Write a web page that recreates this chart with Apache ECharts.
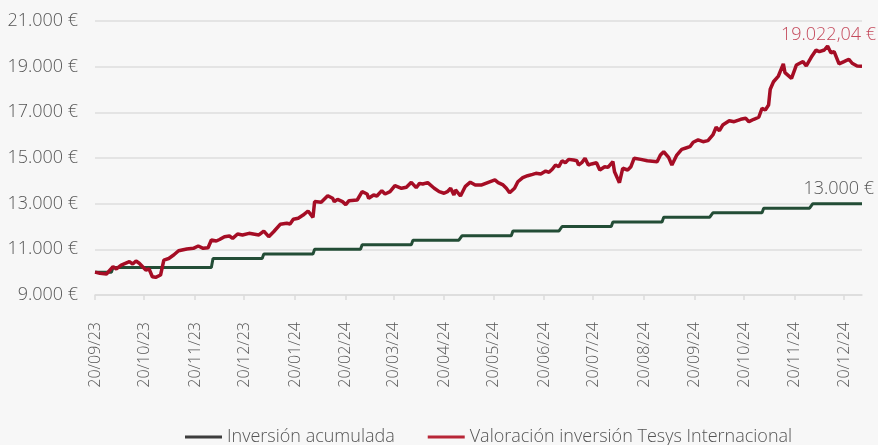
<!DOCTYPE html>
<html>
<head>
<meta charset="utf-8">
<script src="https://cdn.jsdelivr.net/npm/echarts@6/dist/echarts.min.js"></script>
<style>
html,body{margin:0;padding:0;background:#f7f7f7;}
#c{width:878px;height:445px;}
</style>
</head>
<body>
<div id="c"></div>
<script>
// ---- Data ----
const startDate = '2023-09-20';
const endDate = '2024-12-31';

const seriesNames = ['Inversión acumulada', 'Valoración inversión Tesys Internacional'];

// Accumulated investment (changes on these dates)
const investDates = ['2023-09-20','2023-10-01','2023-12-01','2024-01-01','2024-02-01','2024-03-01','2024-04-01','2024-05-01','2024-06-01','2024-07-01','2024-08-01','2024-09-01','2024-10-01','2024-11-01','2024-12-01'];
const investValues = [10000,10200,10600,10800,11000,11200,11400,11600,11800,12000,12200,12400,12600,12800,13000];

// Portfolio valuation
const valueDates = [
'2023-09-20','2023-09-23','2023-09-27','2023-10-01','2023-10-03','2023-10-06','2023-10-11','2023-10-13','2023-10-15','2023-10-17',
'2023-10-21','2023-10-23','2023-10-25','2023-10-27','2023-10-30','2023-11-01','2023-11-04','2023-11-07','2023-11-10','2023-11-15',
'2023-11-19','2023-11-22','2023-11-25','2023-11-28','2023-11-30','2023-12-03','2023-12-05','2023-12-08','2023-12-11','2023-12-13',
'2023-12-16','2023-12-19','2023-12-23','2023-12-29','2024-01-01','2024-01-04','2024-01-07','2024-01-11','2024-01-15','2024-01-17',
'2024-01-19','2024-01-22','2024-01-25','2024-01-28','2024-01-31','2024-02-01','2024-02-05','2024-02-09','2024-02-12','2024-02-13',
'2024-02-15','2024-02-18','2024-02-20','2024-02-22','2024-02-27','2024-03-01','2024-03-04','2024-03-05','2024-03-08','2024-03-10',
'2024-03-13','2024-03-15','2024-03-18','2024-03-21','2024-03-25','2024-03-28','2024-03-31','2024-04-03','2024-04-05','2024-04-07',
'2024-04-10','2024-04-14','2024-04-17','2024-04-20','2024-04-22','2024-04-24','2024-04-26','2024-04-27','2024-04-28','2024-04-30',
'2024-05-03','2024-05-06','2024-05-09','2024-05-13','2024-05-17','2024-05-21','2024-05-23','2024-05-26','2024-05-28','2024-05-30',
'2024-06-02','2024-06-04','2024-06-07','2024-06-10','2024-06-13','2024-06-15','2024-06-18','2024-06-21','2024-06-23','2024-06-25',
'2024-06-27','2024-06-29','2024-07-01','2024-07-03','2024-07-05','2024-07-08','2024-07-10','2024-07-11','2024-07-13','2024-07-15',
'2024-07-17','2024-07-19','2024-07-22','2024-07-24','2024-07-27','2024-07-29','2024-08-01','2024-08-02','2024-08-05','2024-08-07',
'2024-08-10','2024-08-12','2024-08-14','2024-08-18','2024-08-22','2024-08-28','2024-08-30','2024-09-01','2024-09-04','2024-09-06',
'2024-09-09','2024-09-12','2024-09-15','2024-09-17','2024-09-19','2024-09-22','2024-09-25','2024-09-28','2024-10-01','2024-10-03',
'2024-10-05','2024-10-07','2024-10-11','2024-10-14','2024-10-18','2024-10-21','2024-10-23','2024-10-26','2024-10-29','2024-10-31',
'2024-11-02','2024-11-04','2024-11-05','2024-11-07','2024-11-10','2024-11-13','2024-11-14','2024-11-18','2024-11-21','2024-11-23',
'2024-11-25','2024-11-27','2024-11-30','2024-12-03','2024-12-05','2024-12-08','2024-12-10','2024-12-12','2024-12-14','2024-12-17',
'2024-12-20','2024-12-23','2024-12-25','2024-12-28','2024-12-31'];
const valueValues = [
10000,9950,9920,10240,10140,10310,10460,10360,10490,10390,
10095,10140,9800,9775,9875,10530,10600,10750,10940,11015,
11045,11145,11045,11070,11410,11365,11430,11555,11585,11480,
11670,11630,11700,11630,11800,11555,11770,12095,12140,12110,
12315,12360,12500,12680,12400,13090,13060,13350,13235,13090,
13190,13090,12960,13130,13160,13525,13425,13235,13380,13335,
13570,13425,13525,13790,13675,13720,13935,13700,13890,13860,
13920,13675,13525,13455,13525,13675,13380,13600,13525,13335,
13760,13940,13820,13820,13935,14040,13920,13820,13675,13480,
13675,13960,14140,14225,14285,14330,14300,14430,14375,14505,
14695,14620,14880,14795,14940,14915,14880,14695,14795,14990,
14695,14740,14795,14475,14620,14590,14840,14400,13920,14550,
14475,14620,14990,14940,14880,14840,15130,15275,15030,14695,
15130,15380,15450,15495,15690,15790,15715,15760,16010,16345,
16195,16445,16635,16590,16695,16740,16590,16695,16785,17180,
17105,17320,18010,18340,18590,19120,18740,18490,19075,19150,
19220,19030,19410,19730,19655,19730,19905,19610,19655,19120,
19220,19325,19150,19030,19022.04];

const finalValueLabel = '19.022,04 €';
const finalInvestLabel = '13.000 €';

// y axis ticks
const yMin = 9000, yMax = 21000, yStep = 2000;

// ---- Build categories (every calendar day) ----
const categories = [];
for (let t = Date.parse(startDate + 'T00:00:00Z'); t <= Date.parse(endDate + 'T00:00:00Z'); t += 86400000) {
  categories.push(new Date(t).toISOString().slice(0, 10));
}

const investData = categories.map(d => {
  let v = null;
  for (let i = 0; i < investDates.length; i++) if (investDates[i] <= d) v = investValues[i];
  return v;
});
const valMap = {};
valueDates.forEach((d, i) => { valMap[d] = valueValues[i]; });
const valueData = categories.map(d => (d in valMap ? valMap[d] : null));

function fmtEuro(v) {
  return String(v).replace(/\B(?=(\d{3})+(?!\d))/g, '.') + ' €';
}
const isTickDay = (idx, val) => val.slice(8, 10) === '20';

const FONT = "'Open Sans', sans-serif";
const chart = echarts.init(document.getElementById('c'));
chart.setOption({
  backgroundColor: '#f7f7f7',
  animation: false,
  grid: { left: 95, right: 16, top: 21, bottom: 150, containLabel: false },
  legend: {
    left: 180, top: 423,
    icon: 'rect', itemWidth: 37, itemHeight: 3, itemGap: 33,
    textStyle: { fontFamily: FONT, fontSize: 18, fontWeight: 300, color: '#555' },
    data: [
      { name: seriesNames[0], itemStyle: { color: '#3d3d3d' } },
      { name: seriesNames[1], itemStyle: { color: '#b82637' } }
    ]
  },
  xAxis: {
    type: 'category',
    data: categories,
    boundaryGap: false,
    axisLine: { lineStyle: { color: '#dcdcdc', width: 1.5 } },
    axisTick: { show: true, interval: isTickDay, length: 5, lineStyle: { color: '#dcdcdc', width: 1.5 } },
    axisLabel: {
      interval: isTickDay, rotate: 90, margin: 27,
      fontFamily: FONT, fontSize: 16, fontWeight: 300, color: '#555',
      formatter: v => v.slice(8, 10) + '/' + v.slice(5, 7) + '/' + v.slice(2, 4)
    },
    splitLine: { show: false }
  },
  yAxis: {
    type: 'value', min: yMin, max: yMax, interval: yStep,
    axisLine: { show: false }, axisTick: { show: false },
    axisLabel: { margin: 17, fontFamily: FONT, fontSize: 18, fontWeight: 300, color: '#555', formatter: fmtEuro },
    splitLine: { lineStyle: { color: '#e4e4e4', width: 2 } }
  },
  series: [
    {
      name: seriesNames[0], type: 'line', data: investData,
      symbol: 'none', lineStyle: { color: '#234d36', width: 3 }, itemStyle: { color: '#234d36' },
      endLabel: { show: true, formatter: finalInvestLabel, distance: 0, align: 'right', verticalAlign: 'bottom',
        offset: [12, -6], fontFamily: FONT, fontSize: 18, fontWeight: 300, color: '#555' }
    },
    {
      name: seriesNames[1], type: 'line', data: valueData, connectNulls: true,
      symbol: 'none', lineStyle: { color: '#a50d25', width: 3.5 }, itemStyle: { color: '#a50d25' },
      endLabel: { show: true, formatter: finalValueLabel, distance: 0, align: 'right', verticalAlign: 'bottom',
        offset: [14, -22], fontFamily: FONT, fontSize: 18, fontWeight: 300, color: '#c4495b' }
    }
  ]
});
</script>
</body>
</html>
